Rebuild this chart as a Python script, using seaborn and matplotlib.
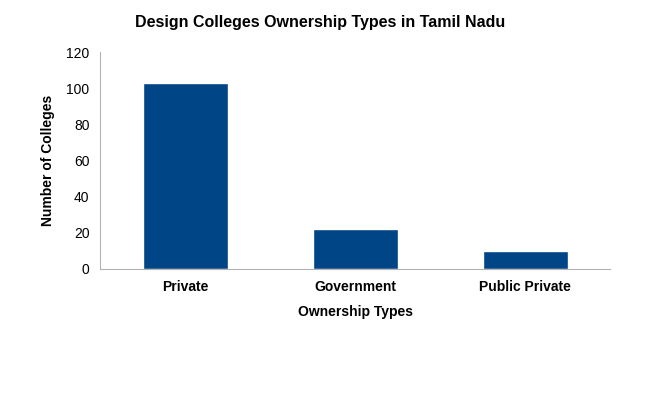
import seaborn as sns
import matplotlib.pyplot as plt
import pandas as pd

categories = ["Private", "Government", "Public Private"]
counts = [103, 22, 10]

sns.set_style("white")
plt.rcParams['font.family'] = ['Liberation Sans', 'DejaVu Sans']
plt.rcParams['text.color'] = 'black'
plt.rcParams['axes.labelcolor'] = 'black'
plt.rcParams['xtick.labelcolor'] = 'black'
plt.rcParams['ytick.labelcolor'] = 'black'

df = pd.DataFrame({"type": categories, "count": counts})

fig = plt.figure(figsize=(6.46, 4.04), dpi=100)
ax = fig.add_axes([100/646, 1 - 269/404, 510/646, 217/404])
sns.barplot(data=df, x="type", y="count", color="#004586", width=0.5,
            saturation=1, ax=ax)

ax.set_ylim(0, 120)
ax.set_xlim(-0.5, 2.5)
ax.set_yticks(range(0, 121, 20))
ax.set_xticks([-0.5, 0.5, 1.5, 2.5], minor=True)
ax.tick_params(axis="x", which="major", length=0, pad=8)
ax.tick_params(axis="x", which="minor", length=4, color="#b3b3b3", direction="out")
ax.tick_params(axis="y", length=4, color="#b3b3b3", direction="out", labelsize=10)
for lab in ax.get_xticklabels():
    lab.set_fontweight("bold")
    lab.set_fontsize(10)
for side in ["top", "right"]:
    ax.spines[side].set_visible(False)
for side in ["left", "bottom"]:
    ax.spines[side].set_color("#b3b3b3")

ax.set_xlabel("Ownership Types", fontweight="bold", fontsize=10, labelpad=8)
ax.set_ylabel("Number of Colleges", fontweight="bold", fontsize=10, labelpad=8)
fig.text(320/646, 1 - 22/404, "Design Colleges Ownership Types in Tamil Nadu",
         ha="center", va="center", fontweight="bold", fontsize=11.5)

fig.savefig("out.png", dpi=100)
